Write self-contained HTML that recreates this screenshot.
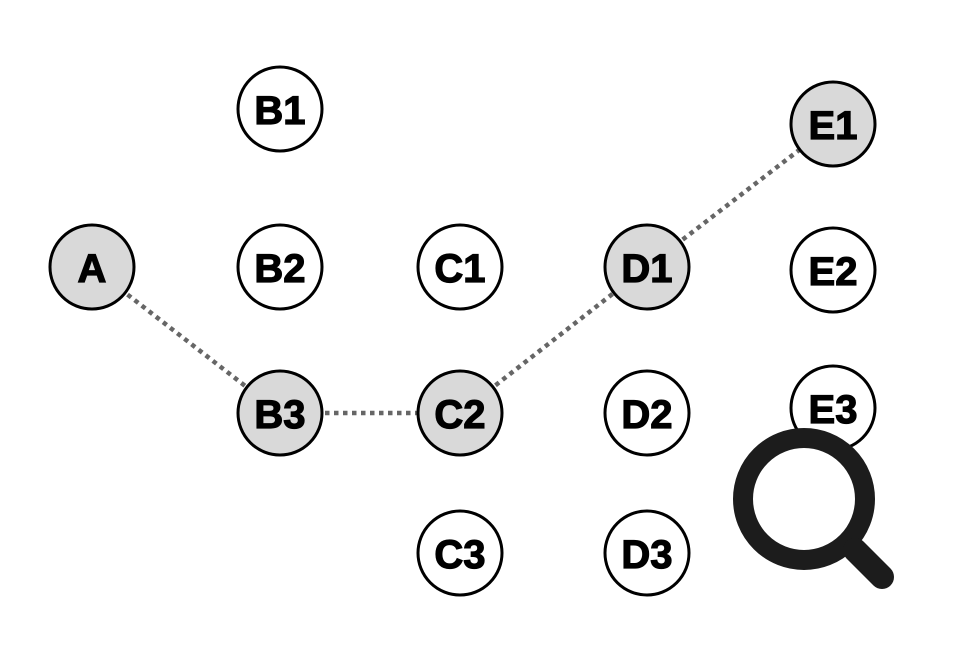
<!DOCTYPE html>
<html><head><style>
html,body{margin:0;padding:0;background:#fff;}
svg{display:block;}
text{font-family:"Liberation Sans",Arial,sans-serif;font-weight:bold;font-size:40px;text-anchor:middle;dominant-baseline:central;fill:#000;stroke:#000;stroke-width:1.2px;}
</style></head><body>
<svg width="960" height="656" viewBox="0 0 960 656" xmlns="http://www.w3.org/2000/svg">
<g stroke="#666" stroke-width="4.5" stroke-dasharray="4.5 4.5" fill="none">
<line x1="92" y1="267" x2="280" y2="413"/>
<line x1="280" y1="413" x2="460" y2="413"/>
<line x1="460" y1="413" x2="647" y2="267"/>
<line x1="647" y1="267" x2="833" y2="124"/>
</g>
<g stroke="#000" stroke-width="3">
<circle cx="92" cy="267" r="42" fill="#d9d9d9"/>
<circle cx="280" cy="109" r="42" fill="#fff"/>
<circle cx="280" cy="267" r="42" fill="#fff"/>
<circle cx="280" cy="413" r="42" fill="#d9d9d9"/>
<circle cx="460" cy="267" r="42" fill="#fff"/>
<circle cx="460" cy="413" r="42" fill="#d9d9d9"/>
<circle cx="460" cy="553" r="42" fill="#fff"/>
<circle cx="647" cy="267" r="42" fill="#d9d9d9"/>
<circle cx="647" cy="413" r="42" fill="#fff"/>
<circle cx="647" cy="553" r="42" fill="#fff"/>
<circle cx="833" cy="124" r="42" fill="#d9d9d9"/>
<circle cx="833" cy="270" r="42" fill="#fff"/>
<circle cx="833" cy="408" r="42" fill="#fff"/>
</g>
<text x="92" y="269">A</text>
<text x="280" y="111">B1</text>
<text x="280" y="269">B2</text>
<text x="280" y="415">B3</text>
<text x="460" y="269">C1</text>
<text x="460" y="415">C2</text>
<text x="460" y="555">C3</text>
<text x="647" y="269">D1</text>
<text x="647" y="415">D2</text>
<text x="647" y="555">D3</text>
<text x="833" y="126">E1</text>
<text x="833" y="272">E2</text>
<text x="833" y="410">E3</text>
<g stroke="#1c1c1c" fill="none">
<circle cx="804" cy="499" r="61" stroke-width="20"/>
<line x1="855" y1="550" x2="882" y2="577" stroke-width="24" stroke-linecap="round"/>
</g>
</svg>
</body></html>
